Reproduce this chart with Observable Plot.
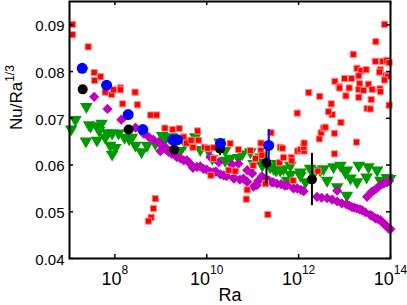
<!DOCTYPE html>
<html><head><meta charset="utf-8">
<script src="https://cdn.jsdelivr.net/npm/d3@7"></script>
<script src="https://cdn.jsdelivr.net/npm/@observablehq/plot@0.6"></script>
<style>html,body{margin:0;padding:0;background:#fff;} svg{display:block}</style>
</head><body><div id="chart"></div>
<script>
// ---- data (log10 Ra, Nu/Ra^(1/3)) ----
const redLogRa = [7.08,7.08,7.42,7.55,7.69,7.56,7.79,7.93,7.97,8.12,
  8.12,8.44,8.17,8.49,8.78,8.91,9.09,9.26,9.40,9.80,
  8.88,8.84,8.79,8.73,9.50,9.56,9.66,9.82,9.70,9.95,
  10.02,10.15,10.51,10.69,10.95,11.18,11.18,11.40,11.20,11.06,
  11.01,10.15,10.48,10.62,10.09,10.88,10.86,11.33,11.60,11.28,
  11.58,11.67,11.84,11.98,11.65,11.85,12.04,12.12,12.11,12.12,
  11.88,12.42,12.78,13.26,12.45,12.49,12.54,12.58,12.78,12.92,
  12.73,12.65,12.71,11.97,12.22,12.46,13.03,13.31,13.58,13.49,
  13.56,13.97,13.87,13.68,13.19,13.67,13.83,13.92,13.97,13.27,
  13.36,13.47,13.78,13.76,13.31,13.90,13.94,13.87,12.79,13.00,
  13.15,12.88,12.89,13.10,13.33,13.31,13.41,13.52,13.60,13.77,13.78];
const redNu = [0.0901,0.0879,0.0853,0.0798,0.0789,0.0781,0.0756,0.0751,0.0761,0.0765,
  0.0761,0.0756,0.0731,0.0729,0.0707,0.0707,0.0679,0.0676,0.0678,0.0673,
  0.0528,0.0507,0.0488,0.0480,0.0660,0.0647,0.0653,0.0653,0.0638,0.0638,
  0.0636,0.0637,0.0646,0.0633,0.0631,0.0647,0.0631,0.0669,0.0621,0.0614,
  0.0599,0.0614,0.0589,0.0587,0.0578,0.0547,0.0527,0.0494,0.0638,0.0560,
  0.0605,0.0616,0.0616,0.0630,0.0636,0.0609,0.0633,0.0630,0.0638,0.0647,
  0.0567,0.0587,0.0624,0.0649,0.0656,0.0669,0.0679,0.0681,0.0668,0.0691,
  0.0708,0.0714,0.0731,0.0711,0.0755,0.0747,0.0748,0.0745,0.0740,0.0721,
  0.0720,0.0728,0.0901,0.0864,0.0837,0.0822,0.0822,0.0824,0.0819,0.0807,
  0.0802,0.0804,0.0804,0.0799,0.0791,0.0792,0.0790,0.0782,0.0779,0.0785,
  0.0785,0.0768,0.0765,0.0765,0.0774,0.0762,0.0760,0.0773,0.0762,0.0763,0.0757];

const greenLogRa = [7.38,7.14,7.05,7.44,7.61,7.71,7.66,7.37,7.61,7.83,
  7.94,8.08,8.01,7.94,7.79,8.21,8.37,8.58,8.70,9.03,
  9.10,9.24,8.88,8.31,7.47,9.75,9.53,9.86,10.04,10.28,
  10.51,10.69,10.77,10.95,11.02,11.38,11.51,11.17,11.53,11.60,
  11.46,10.40,10.12,11.67,11.82,12.04,12.54,12.76,12.91,13.05,
  13.31,13.52,13.71,13.92,13.05,12.84,13.27,12.33,12.62,11.75,
  12.15,13.48,13.78,13.99,12.47,13.13,12.04,
  7.90,8.45,9.43,10.40,11.21,11.82,12.25,13.02];
const greenNu = [0.0725,0.0697,0.0677,0.0686,0.0683,0.0689,0.0674,0.0651,0.0653,0.0669,
  0.0668,0.0668,0.0637,0.0623,0.0659,0.0659,0.0659,0.0628,0.0642,0.0663,
  0.0656,0.0660,0.0646,0.0656,0.0683,0.0660,0.0647,0.0633,0.0631,0.0649,
  0.0614,0.0616,0.0624,0.0628,0.0603,0.0596,0.0589,0.0617,0.0603,0.0589,
  0.0592,0.0610,0.0614,0.0592,0.0580,0.0578,0.0592,0.0596,0.0599,0.0589,
  0.0599,0.0596,0.0589,0.0573,0.0535,0.0553,0.0564,0.0582,0.0567,0.0567,
  0.0564,0.0574,0.0567,0.0571,0.0589,0.0572,0.0585,
  0.0642,0.0642,0.0631,0.0631,0.0599,0.0599,0.0593,0.0584];

const magentaLogRa = [7.55,7.84,8.14,8.45,8.63,8.74,8.84,8.95,9.03,9.10,
  8.99,9.17,9.24,9.35,9.50,9.64,9.79,9.93,10.08,10.08,
  10.26,10.30,10.55,10.69,10.59,10.72,10.88,10.99,10.88,11.02,
  11.20,11.35,11.53,10.15,10.37,10.59,11.09,11.31,11.75,11.89,
  12.11,11.97,12.40,12.73,12.94,13.16,13.38,13.56,13.78,13.96,
  12.84,13.63,13.78,13.92,13.49,12.62,13.04,13.27,13.67,13.87,
  9.57,9.43,9.86,10.43,11.23,11.45,
  9.70,10.00,10.20,10.80,11.12,11.42,11.62,11.70,12.05,12.50,
  12.84,13.10,13.21,13.33,13.45,13.60,13.72,13.82,13.91,14.00,
  13.58,13.70,13.85,13.97];
const magentaNu = [0.0746,0.0720,0.0697,0.0680,0.0667,0.0660,0.0654,0.0649,0.0642,0.0638,
  0.0630,0.0628,0.0624,0.0617,0.0610,0.0603,0.0596,0.0592,0.0617,0.0585,
  0.0606,0.0580,0.0601,0.0603,0.0573,0.0569,0.0589,0.0582,0.0564,0.0554,
  0.0576,0.0567,0.0560,0.0585,0.0578,0.0571,0.0557,0.0567,0.0557,0.0550,
  0.0544,0.0550,0.0532,0.0526,0.0518,0.0510,0.0503,0.0493,0.0482,0.0464,
  0.0545,0.0545,0.0557,0.0563,0.0532,0.0529,0.0516,0.0507,0.0486,0.0473,
  0.0610,0.0614,0.0597,0.0576,0.0571,0.0563,
  0.0594,0.0590,0.0586,0.0571,0.0566,0.0563,0.0559,0.0556,0.0547,0.0530,
  0.0522,0.0513,0.0509,0.0505,0.0499,0.0491,0.0485,0.0478,0.0470,0.0463,
  0.0542,0.0550,0.0560,0.0566];

const blueLogRa = [7.29,7.82,8.29,8.61,9.26,9.36,10.30,11.35];
const blueNu    = [0.0807,0.0771,0.0708,0.0676,0.0654,0.0654,0.0646,0.0642];
const blueErr   = [0,0,0,0,0,0,0,0.0034];

const blackLogRa = [7.30,8.30,9.29,10.29,11.30,12.29];
const blackNu    = [0.0762,0.0676,0.0633,0.0635,0.0605,0.0569];
const blackErr   = [0,0,0,0.0015,0.0045,0.0056];

const xTicks = [1e8, 1e10, 1e12, 1e14];
const yTicks = [0.04, 0.05, 0.06, 0.07, 0.08, 0.09];
const xLabel = "Ra";
const yLabel = "Nu/Ra^1/3";

// ---- build tables ----
const rows = (ra, nu, err) => ra.map((e, i) => ({Ra: 10 ** e, nu: nu[i], err: err ? err[i] : 0}));
const red = rows(redLogRa, redNu);
const green = rows(greenLogRa, greenNu);
const magenta = rows(magentaLogRa, magentaNu);
const blue = rows(blueLogRa, blueNu, blueErr);
const black = rows(blackLogRa, blackNu, blackErr);

const W = 407, H = 305, mL = 69, mR = 17, mT = 1, mB = 47;
const fw = W - mL - mR, fh = H - mT - mB;

const chart = Plot.plot({
  width: W, height: H,
  marginLeft: mL, marginRight: mR, marginTop: mT, marginBottom: mB,
  style: {fontFamily: '"Liberation Sans", Arial, Helvetica, sans-serif', background: "white", color: "black", overflow: "visible"},
  x: {type: "log", domain: [1.03e7, 1e14], axis: null},
  y: {domain: [0.04, 0.095], axis: null},
  marks: [
    Plot.dot(green, {x: "Ra", y: "nu", symbol: "triangle", r: 4.7, fill: "#009a00", rotate: 180}),
    Plot.dot(magenta, {x: "Ra", y: "nu", symbol: "diamond2", r: 4.6, fill: "#bf00bf"}),
    Plot.dot(red, {x: "Ra", y: "nu", symbol: "square", r: 3.5, fill: "#ff0000", stroke: "#ff8a8a", strokeWidth: 1}),
    Plot.ruleX(black.filter(d => d.err > 0), {x: "Ra", y1: d => d.nu - d.err, y2: d => d.nu + d.err, stroke: "black", strokeWidth: 2}),
    Plot.dot(black, {x: "Ra", y: "nu", r: 5, fill: "black"}),
    Plot.ruleX(blue.filter(d => d.err > 0), {x: "Ra", y1: d => d.nu - d.err, y2: d => d.nu + d.err, stroke: "#0000ff", strokeWidth: 2}),
    Plot.dot(blue, {x: "Ra", y: "nu", r: 5.5, fill: "#0000ff"}),
    Plot.tickX(xTicks, {x: d => d, insetTop: fh - 4, stroke: "black", strokeWidth: 1.5}),
    Plot.tickX(xTicks, {x: d => d, insetBottom: fh - 4, stroke: "black", strokeWidth: 1.5}),
    Plot.tickY(yTicks, {y: d => d, insetRight: fw - 4, stroke: "black", strokeWidth: 1.5}),
    Plot.tickY(yTicks, {y: d => d, insetLeft: fw - 4, stroke: "black", strokeWidth: 1.5}),
    Plot.frame({stroke: "black", strokeWidth: 2}),
    Plot.text(yTicks, {y: d => d, frameAnchor: "left", dx: -5, dy: 1.5, textAnchor: "end", text: d => d.toFixed(2), fontSize: 15, fill: "black"}),
    Plot.text(xTicks, {x: d => d, frameAnchor: "bottom", dy: 26, lineAnchor: "bottom", text: d => "10^" + Math.round(Math.log10(d)), fontSize: 18, fill: "black", ariaLabel: () => "xticklabel"}),
    Plot.text([xLabel], {frameAnchor: "bottom", dy: 42, lineAnchor: "bottom", text: d => d, fontSize: 18, fill: "black"}),
    Plot.text([yLabel], {frameAnchor: "left", dx: -48, rotate: -90, lineAnchor: "bottom", text: d => d, fontSize: 17, fill: "black", ariaLabel: () => "ylabel"})
  ]
});
document.getElementById("chart").appendChild(chart);

// superscripts for tex-like labels
function supify(sel, supSize, shift) {
  d3.select(chart).selectAll(`[aria-label="${sel}"]`).each(function () {
    const t = d3.select(this);
    const s = this.textContent;
    if (!s.includes("^")) return;
    const [base, sup] = s.split("^");
    t.selectAll("*").remove();
    t.text(null);
    t.append("tspan").text(base);
    t.append("tspan").attr("font-size", supSize).attr("dy", -shift).text(sup);
  });
}
supify("xticklabel", 12, 11);
supify("ylabel", 12, 8);
</script>
</body></html>
